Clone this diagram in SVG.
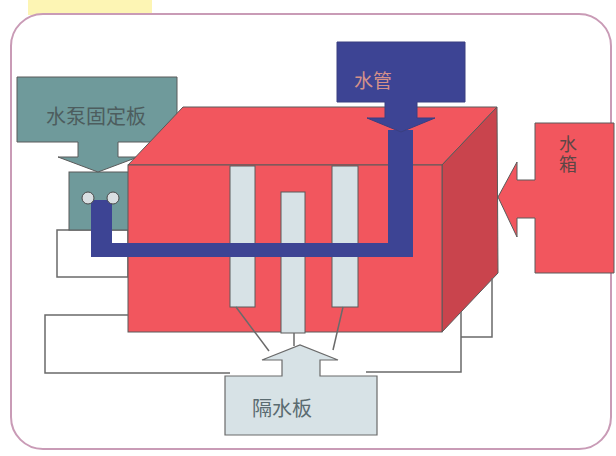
<svg xmlns="http://www.w3.org/2000/svg" width="616" height="456" viewBox="0 0 616 456">
  <style>
    .edge { stroke: #5a5a5a; stroke-width: 1; }
    .wire { fill: none; stroke: #6a6a6a; stroke-width: 1.5; }
    .label { font-family: "Noto Sans CJK SC", "Noto Sans", sans-serif; text-anchor: middle; }
    .red { fill: #f2565e; }
    .redSide { fill: #c9444d; }
    .teal { fill: #6f9a9b; }
    .blue { fill: #3d4494; }
    .board { fill: #d7e2e6; }
  </style>

  <!-- background and frame -->
  <rect x="0" y="0" width="616" height="456" fill="#ffffff"/>
  <rect x="28" y="0" width="124" height="15" fill="#fdf5b4"/>
  <rect x="11" y="14" width="600" height="435" rx="32" ry="32" fill="#ffffff" stroke="#c99bb6" stroke-width="2"/>

  <!-- pump base -->
  <g id="pump-base">
    <rect x="57" y="230" width="71" height="47" fill="#ffffff" stroke="#6a6a6a" stroke-width="1.5"/>
  </g>

  <!-- pump -->
  <g id="pump">
    <rect class="teal edge" x="69" y="172" width="62" height="58"/>
  </g>

  <!-- pump fixing plate label with arrow -->
  <g id="pump-plate">
    <path class="teal edge" d="M17,77 H177 V142 H118 V157 H138 L98,172 L58,157 H78 V142 H17 Z"/>
    <text class="label" x="96" y="124" font-size="20" fill="#4d5d5e">水泵固定板</text>
  </g>

  <!-- tank box -->
  <g id="tank">
    <polygon class="red edge" points="128,165 183,107 497,107 442,165"/>
    <polygon class="redSide edge" points="442,165 497,107 498,273 442,332"/>
    <rect class="red edge" x="128" y="165" width="314" height="167"/>
  </g>

  <!-- partition boards -->
  <g id="boards">
    <rect class="board edge" x="230" y="166" width="25" height="141"/>
    <rect class="board edge" x="281" y="192" width="24" height="141"/>
    <rect class="board edge" x="332" y="166" width="26" height="141"/>
  </g>

  <!-- outlines and leader lines -->
  <g id="connectors">
    <polyline class="wire" points="128,315 45,315 45,373 230,373"/>
    <polyline class="wire" points="366,372 461,372 461,312"/>
    <polyline class="wire" points="492,278 492,337 461,337"/>
    <polyline class="wire" points="236,307 269,351"/>
    <polyline class="wire" points="294,333 294,346"/>
    <polyline class="wire" points="343,307 333,350"/>
  </g>

  <!-- water pipe -->
  <g id="pipe">
    <path class="blue" d="M91,200 H112 V243 H388 V130 H413 V257 H91 Z"/>
    <circle cx="88" cy="198" r="6" fill="#d9dfe2" stroke="#4a4a4a" stroke-width="1"/>
    <circle cx="113" cy="198" r="6" fill="#d9dfe2" stroke="#4a4a4a" stroke-width="1"/>
  </g>

  <!-- water pipe label with arrow -->
  <g id="pipe-label">
    <path class="blue" d="M337,42 H465 V102 H417 V118 H435 L401,132 L367,118 H385 V102 H337 Z" stroke="#3a3f80" stroke-width="1"/>
    <text class="label" x="373" y="88" font-size="19" fill="#d4918a">水管</text>
  </g>

  <!-- water tank label with arrow -->
  <g id="water-tank-label">
    <path class="red edge" d="M535,123 H614 V273 H535 V218 H517 V237 L498,197 L517,162 V180 H535 Z"/>
    <text x="568" y="135" font-size="18" fill="#5d4646" writing-mode="tb" letter-spacing="2" font-family="Noto Sans CJK SC, Noto Sans, sans-serif">水箱</text>
  </g>

  <!-- partition label with arrow -->
  <g id="partition-label">
    <path class="board" d="M225,376 H282 V360 H262 L300,345 L338,360 H320 V376 H377 V435 H225 Z" fill="#d9e7eb" stroke="#6a6a6a" stroke-width="1.2"/>
    <text class="label" x="282" y="416" font-size="20" fill="#5a6b70">隔水板</text>
  </g>
</svg>
